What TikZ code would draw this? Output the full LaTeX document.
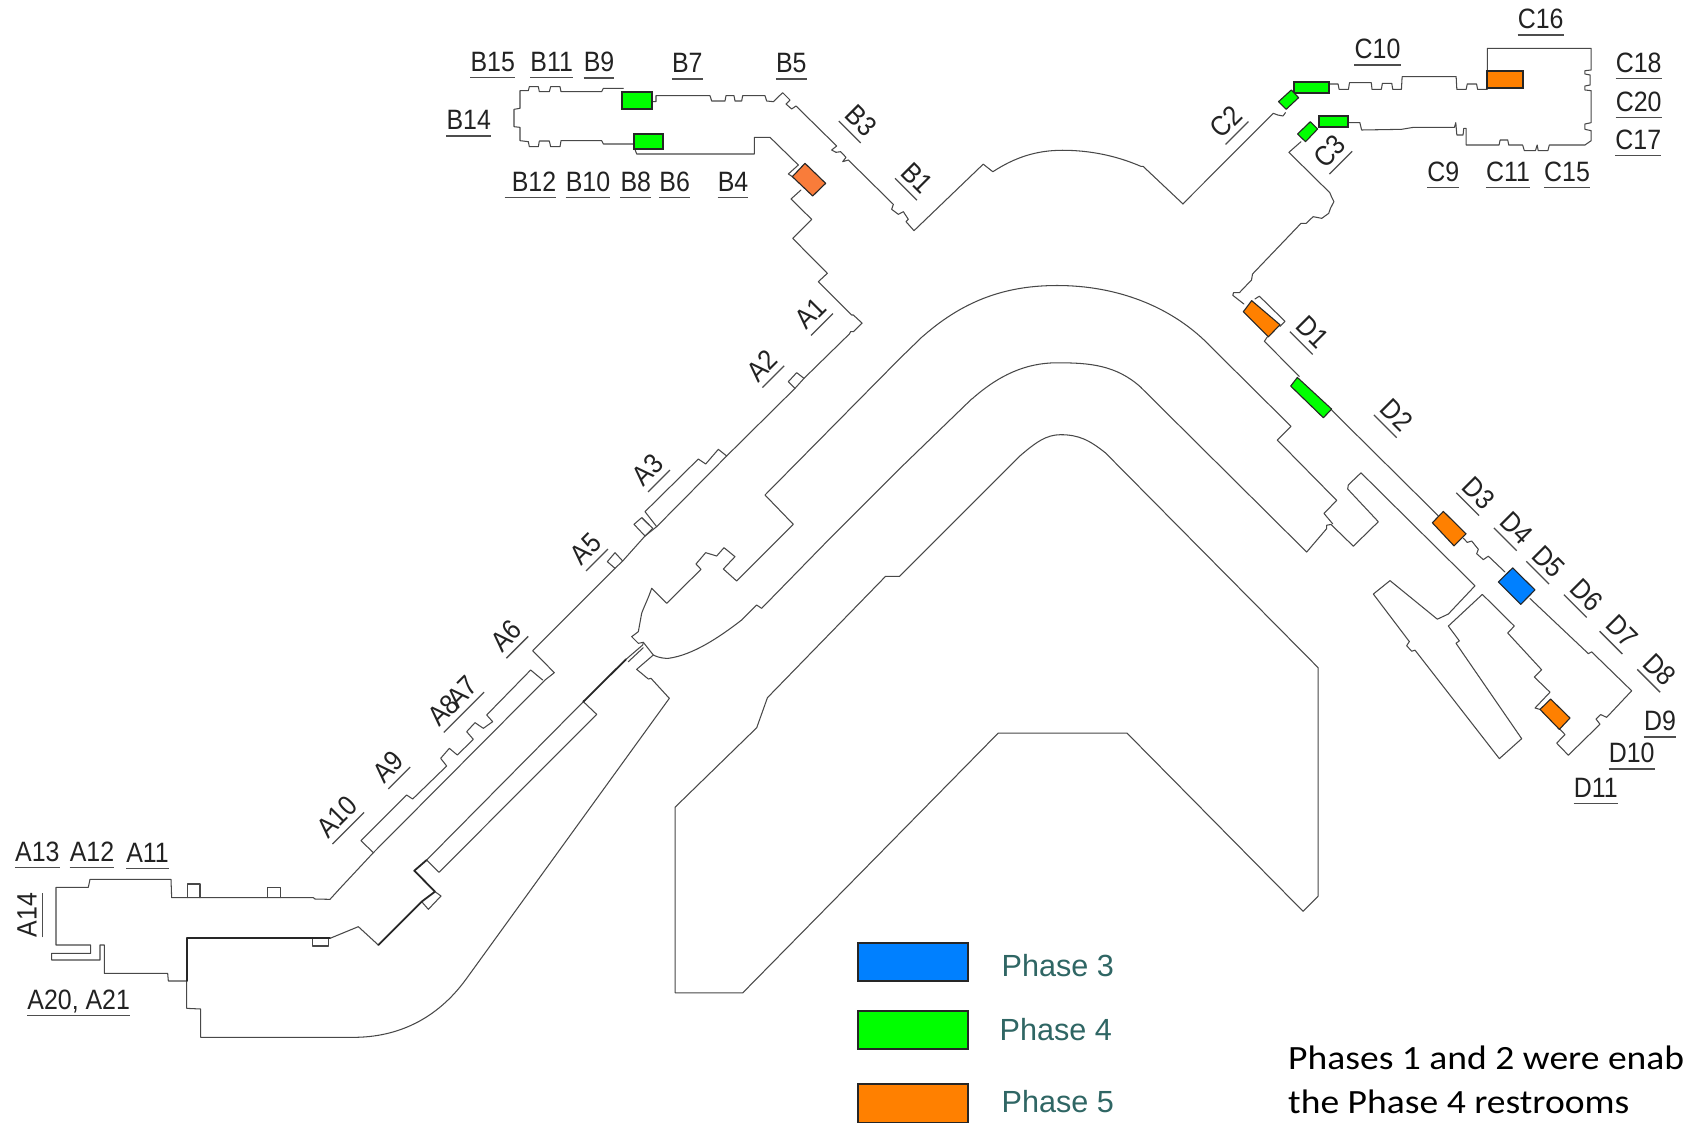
\documentclass[tikz,border=0pt]{standalone}
\usepackage{fontspec}
\setmainfont{Liberation Sans}
\newfontfamily\noteface{Carlito}
\definecolor{wallc}{HTML}{484848}
\definecolor{gr}{HTML}{00FF00}
\definecolor{grd}{HTML}{0A5A0A}
\definecolor{org}{HTML}{FF8000}
\definecolor{orgb}{HTML}{F97C3A}
\definecolor{blu}{HTML}{0080FF}
\definecolor{tealt}{HTML}{2F6664}
\definecolor{labc}{HTML}{222222}
\newcommand\lb[1]{\scalebox{.89}[1]{#1}}
\newcommand\nt[1]{\scalebox{1.105}[1]{#1}}
\tikzset{
 wall/.style={draw=wallc,line width=1.05pt,line join=round,line cap=round},
 heavy/.style={draw=black!85,line width=1.8pt,line join=round,line cap=round},
 zone/.style={draw=black!85,line width=1.1pt,line join=round},
 zoneh/.style={draw=black!85,line width=2pt,line join=miter},
 lab line/.style={draw=labc!80,line width=1.3pt},
 lab/.style={font=\fontsize{28}{28}\selectfont,text=labc,inner xsep=0pt,inner ysep=6pt,anchor=south,text depth=0pt,
   append after command={(\tikzlastnode.south west) edge[lab line] (\tikzlastnode.south east)}},
 phase/.style={font=\fontsize{30.6}{30.6}\selectfont,text=tealt,anchor=base west,inner sep=0pt},
 note/.style={font=\noteface\fontsize{34}{34}\selectfont,text=black,anchor=base west,inner sep=0pt},
 za/.style={shift={(420,20)},xscale=1/3,yscale=1/3},
 zb/.style={shift={(1140,0)},xscale=1/2.888,yscale=1/3},
 zc/.style={shift={(1180,280)},xscale=1/3,yscale=1/2.904},
 zd/.style={shift={(0,780)},xscale=1/3,yscale=1/3},
 ze/.style={shift={(320,580)},xscale=1/3,yscale=1/3},
 zf/.style={shift={(560,280)},xscale=1/3,yscale=1/3},
 zs/.style={xscale=1.07334,yscale=1.07334},
}
\begin{document}
\begin{tikzpicture}[x=1pt,y=-1pt]
\useasboundingbox[fill=white] (0,0) rectangle (1683,1122);

% ---- shrunk-scale outlines: arcs and the large polygon
\begin{scope}[zs]
\coordinate (arctopl) at (916,153);
\coordinate (arctopr) at (1102,190);
\coordinate (arconel) at (860,313);
\coordinate (arconer) at (1125,320);
\coordinate (arctwol) at (905,372);
\coordinate (arctwor) at (1063,361);
\path[wall] (629,752) -- (629,925) -- (692,925) -- (930,683) -- (1050,683) -- (1214,849) -- (1228,835) -- (1228,622) -- (1030,422)
  .. controls (1015,410) and (1005,405) .. (988,405)
  .. controls (975,405) and (965,412) .. (950,425)
  -- (838,537) -- (825,537) -- (715,650) -- (705,678) -- cycle;
\path[wall] (arctopl) -- (925,160) .. controls (945,147) and (965,140) .. (990,140)
  .. controls (1015,140) and (1040,145) .. (1063,155) -- (1065,155) -- (arctopr);
\path[wall] (arconel) .. controls (900,278) and (940,266) .. (985,266)
  .. controls (1040,266) and (1090,285) .. (arconer);
\path[wall] (arctwol) .. controls (930,350) and (955,338) .. (985,338)
  .. controls (1015,338) and (1040,340) .. (arctwor);
\end{scope}

% ---- B concourse
\begin{scope}[za]
\path[wall] (610,205) -- (550,205) -- (545,215) -- (423,215) -- (420,200) -- (392,200) -- (388,215) -- (358,215) -- (355,200) -- (328,200) -- (325,212) -- (300,212) -- (300,265) -- (282,268) -- (282,320) -- (300,322) -- (300,362) -- (325,365) -- (328,380) -- (355,380) -- (358,363) -- (388,363) -- (392,380) -- (420,380) -- (423,362) -- (545,362) -- (550,372) -- (640,372);
\path[wall] (645,388) -- (650,402) -- (1003,402) -- (1003,352) -- (1050,352) -- (1135,435) -- (1105,462) -- (1117,470);
\path[wall] (1143,510) -- (1113,537) -- (1175,598) -- (1118,655) -- (1222,760) -- (1195,785) -- (1295,885) -- (1300,885) -- (1327,910);
\path[wall] (695,245) -- (708,245) -- (708,227) -- (870,227) -- (875,243) -- (915,243) -- (918,227) -- (942,227) -- (945,243) -- (965,243) -- (968,227) -- (1035,227) -- (1040,243) -- (1060,245) -- (1088,218) -- (1110,240) -- (1098,252) -- (1115,267) -- (1128,258) -- (1250,378) -- (1235,390) -- (1248,397) -- (1262,395) -- (1278,412) -- (1268,425) -- (1285,420) -- (1420,553) -- (1415,568) -- (1435,583) -- (1450,575) -- (1465,598) -- (1458,605) -- (1482,632) -- (arctopl);
\path[zoneh,fill=gr] (607,217) rectangle (695,266);
\path[zoneh,fill=gr] (642,343) rectangle (728,388);
\path[zone,fill=orgb] (1155,430) -- (1217,490) -- (1178,528) -- (1117,470) -- cycle;
\end{scope}

% ---- C concourse
\begin{scope}[zb]
\path[wall] (arctopr) -- (385,340) -- (398,345) -- (413,348) -- (420,338);
\path[wall] (545,252) -- (572,252) -- (575,268) -- (602,268) -- (605,248) -- (668,248) -- (670,268) -- (697,268) -- (700,250) -- (727,250) -- (730,268) -- (755,268) -- (757,230) -- (913,230) -- (915,268) -- (942,268) -- (945,252) -- (972,252) -- (975,268) -- (1003,268) -- (1003,145) -- (1303,145) -- (1303,210) -- (1285,212) -- (1285,222) -- (1300,225) -- (1300,255) -- (1285,258) -- (1285,270) -- (1303,272) -- (1303,368) -- (1285,372) -- (1285,388) -- (1303,392) -- (1303,422) -- (1285,435) -- (1182,435) -- (1178,452) -- (1150,452) -- (1147,435) -- (1142,452) -- (1110,452) -- (1105,435) -- (1065,435) -- (1062,420) -- (1040,420) -- (1037,435) -- (942,435) -- (942,385) -- (935,385) -- (933,405) -- (915,405) -- (912,368) -- (908,382) -- (790,382) -- (755,388) -- (640,390) -- (635,368) -- (603,368);
\path[wall] (465,425) -- (430,457) -- (548,578) -- (553,590) -- (560,605) -- (550,625) -- (545,640) -- (525,655) -- (500,650) -- (480,670) -- (465,670) -- (325,822) -- (322,840) -- (287,878) -- (270,878) -- (268,886) -- (300,912);
\path[zoneh,fill=gr] (445,245) rectangle (545,278);
\path[zone,fill=gr] (437,270) -- (458,293) -- (422,328) -- (400,305) -- cycle;
\path[zoneh,fill=gr] (517,347) rectangle (602,380);
\path[zone,fill=gr] (492,365) -- (513,387) -- (478,425) -- (455,402) -- cycle;
\path[zoneh,fill=org] (1003,212) rectangle (1105,264);
\end{scope}

% ---- D concourse
\begin{scope}[zc]
\path[wall] (225,55) -- (238,47) -- (315,120) -- (300,135);
\path[wall] (262,165) -- (253,178) -- (358,280);
\path[wall] (455,378) -- (775,685);
\path[wall] (850,750) -- (862,762) -- (875,758) -- (895,782) -- (890,795) -- (910,812) -- (925,802) -- (975,848);
\path[wall] (1050,925) -- (1225,1085) -- (1235,1080) -- (1355,1193) -- (1280,1270) -- (1262,1262) -- (1248,1275) -- (1260,1290) -- (1165,1380) -- (1130,1345) -- (1155,1320) -- (1140,1305);
\path[wall] (1080,1247) -- (1065,1243) -- (1110,1197) -- (1063,1153) -- (1085,1132) -- (983,1025) -- (1003,1005) -- (907,913) -- (805,1005) -- (838,1048) -- (828,1055) -- (1025,1332) -- (958,1390) -- (705,1075) -- (695,1078) -- (680,1062) -- (688,1050) -- (580,912) -- (630,873) -- (772,985) -- (805,970) -- (885,888) -- (543,560) -- (505,595) -- (503,607) -- (595,702) -- (520,773) -- (453,710) -- (440,712) -- (440,722) -- (380,790) -- (arctwor);
\path[wall] (458,708) -- (432,678) -- (470,640) -- (292,465) -- (333,425) -- (arconer);
\path[zone,fill=org] (215,60) -- (300,130) -- (265,165) -- (190,92) -- cycle;
\path[zone,fill=gr] (352,283) -- (455,375) -- (430,400) -- (332,308) -- cycle;
\path[zone,fill=org] (790,672) -- (858,737) -- (822,772) -- (757,705) -- cycle;
\path[zone,fill=blu] (998,836) -- (1065,900) -- (1022,942) -- (955,877) -- cycle;
\path[zone,fill=org] (1112,1217) -- (1170,1272) -- (1138,1305) -- (1080,1247) -- cycle;
\end{scope}

% ---- A concourse, north part
\begin{scope}[zf]
\coordinate (wallA) at (165,865);
\coordinate (corrA) at (1020,235);
\coordinate (corrB) at (275,925);
\coordinate (thirdA) at (545,1020);
\path[wall] (905,130) -- (880,155) -- (872,155) -- (868,162) -- (732,295) -- (705,325) -- (500,528) -- (290,740) -- (255,768) -- (188,843) -- (165,865);
\path[wall] (732,295) -- (710,278) -- (685,305) -- (705,325);
\path[wall] (500,528) -- (475,508) -- (437,552) -- (415,537) -- (255,695) -- (290,740);
\path[wall] (245,713) -- (278,745);
\path[wall] (278,745) -- (255,768) -- (222,733) -- (245,713) -- (268,735);
\path[wall] (188,843) -- (165,818) -- (142,845) -- (165,865);
\path[wall] (arconel) -- (corrA) -- (615,645) -- (700,733) -- (530,903) -- (490,867) -- (525,830) -- (492,803) -- (470,828) -- (437,818) -- (408,852) -- (423,868) -- (320,970) -- (corrB);
\path[wall] (arctwol) -- (1020,565) -- (810,775) -- (605,985) -- (590,975) -- (thirdA);
\end{scope}

% ---- A concourse, south part
\begin{scope}[ze]
\coordinate (wallB) at (30,958);
\coordinate (cornerD) at (1048,355);
\coordinate (stubD) at (305,965);
\path[wall] (wallA) -- (638,212) -- (703,278) -- (675,300) -- (160,818) -- (60,925) -- (wallB);
\path[wall] (668,300) -- (632,270) -- (500,405) -- (518,425) -- (490,445) -- (465,428) -- (440,455) -- (460,478) -- (412,525) -- (388,505) -- (362,535) -- (380,558) -- (278,657) -- (260,645) -- (123,782) -- (160,818);
\path[wall] (320,840) -- (790,365);
\path[heavy] (283,872) -- (320,840);
\path[wall] (320,840) -- (357,877) -- (830,403) -- (790,365);
\path[heavy] (790,365) -- (918,238);
\path[wall] (918,238) -- (968,195) -- (970,187);
\path[wall] (925,245) -- (970,203);
\path[heavy] (283,872) -- (345,935) -- (stubD);
\path[wall] (345,935) -- (363,948) -- (325,988) -- (stubD);
\path[wall] (corrB) .. controls (985,55) and (970,85) .. (965,100) -- (955,155) -- (935,170) -- (955,190) -- (970,187) -- (1000,225)
  .. controls (1020,235) and (1035,235) .. (1045,235) .. controls (1120,225) and (1200,170) .. (thirdA);
\path[wall] (1000,225) -- (950,268) -- (985,297) -- (993,295) -- (cornerD);
\end{scope}

% ---- A gates, west end
\begin{scope}[zd]
\path[wall] (wallB) -- (945,357) -- (940,353) -- (515,353) -- (513,298) -- (270,298) -- (265,322) -- (168,322) -- (168,495) -- (272,495) -- (272,520) -- (155,520) -- (155,540) -- (300,540) -- (300,495) -- (313,495) -- (313,580) -- (503,580) -- (505,603) -- (560,603);
\path[wall] (562,353) -- (562,312) -- (600,312) -- (600,353);
\path[wall] (802,353) -- (802,323) -- (842,323) -- (842,353);
\path[wall] (938,475) -- (938,498) -- (985,498) -- (985,475);
\path[wall] (cornerD) -- (1400,595) .. controls (1310,720) and (1190,772) .. (1060,772) -- (602,772) -- (602,687) -- (560,685) -- (560,603);
\path[heavy] (560,603) -- (560,475) -- (990,475);
\path[wall] (990,475) -- (1075,440) -- (1135,495);
\path[heavy] (1135,495) -- (stubD);
\end{scope}

% ---- labels
\node[lab] (B15) at (492.7,77.3) {\lb{B15}};
\node[lab] (B11) at (551.7,77.3) {\lb{B11}};
\node[lab] (B9) at (599,78) {\lb{B9}};
\node[lab] (B7) at (687.3,79) {\lb{B7}};
\node[lab] (B5) at (791.3,79) {\lb{B5}};
\node[lab] (B14) at (468.7,136) {\lb{B14}};
\node[lab] (B12) at (530.5,197.7) {\hspace*{7pt}\lb{B12}};
\node[lab] (B10) at (588,197.7) {\lb{B10}};
\node[lab] (B8) at (635.8,197.7) {\lb{B8}};
\node[lab] (B6) at (674.7,197.7) {\lb{B6}};
\node[lab] (B4) at (733,197.7) {\lb{B4}};
\node[lab,rotate=-45] (B3) at (849.7,132) {\lb{B3}};
\node[lab,rotate=-45] (B1) at (906,189.3) {\lb{B1}};
\node[lab,rotate=45] (A1) at (822,324.5) {\lb{A1}};
\node[lab,rotate=45] (A2) at (773.3,376.7) {\lb{A2}};
\node[lab,rotate=45] (A3) at (659,481) {\lb{A3}};
\node[lab,rotate=45] (A5) at (597,560) {\lb{A5}};
\node[lab,rotate=45] (A6) at (517.3,647.3) {\lb{A6}};
\node[lab,rotate=45] (A8A7) at (464,712.3) {\lb{A8\kern-5pt A7}};
\node[lab,rotate=45] (A9) at (399.3,778) {\lb{A9}};
\node[lab,rotate=45] (A10) at (348.3,828.2) {\lb{A10}};
\node[lab] (A11) at (147.5,868.3) {\lb{A11}};
\node[lab] (A12) at (92,867.7) {\lb{A12}};
\node[lab] (A13) at (37.3,867.7) {\lb{A13}};
\node[lab,rotate=90] (A14) at (42.7,915) {\lb{A14}};
\node[lab] (A20) at (78.7,1015.3) {\lb{A20, A21}};
\node[lab,rotate=45] (C2) at (1237,133) {\lb{C2}};
\node[lab,rotate=45] (C3) at (1340.8,162.7) {\lb{C3}};
\node[lab] (C10) at (1377.5,65) {\lb{C10}};
\node[lab] (C16) at (1540.6,35) {\lb{C16}};
\node[lab] (C18) at (1638.6,78.7) {\lb{C18}};
\node[lab] (C20) at (1638.6,117.3) {\lb{C20}};
\node[lab] (C17) at (1638.3,155.7) {\lb{C17}};
\node[lab] (C9) at (1443.3,187.7) {\lb{C9}};
\node[lab] (C11) at (1508,187.7) {\lb{C11}};
\node[lab] (C15) at (1567,187.7) {\lb{C15}};
\node[lab,rotate=-45] (D1) at (1301.3,343) {\lb{D1}};
\node[lab,rotate=-45] (D2) at (1385.3,426.3) {\lb{D2}};
\node[lab,rotate=-45] (D3) at (1467.7,504.2) {\lb{D3}};
\node[lab,rotate=-45] (D4) at (1505.3,539.3) {\lb{D4}};
\node[lab,rotate=-45] (D5) at (1537.7,572.7) {\lb{D5}};
\node[lab,rotate=-45] (D6) at (1575.3,606) {\lb{D6}};
\node[lab,rotate=-45] (D7) at (1611,642.6) {\lb{D7}};
\node[lab,rotate=-45] (D8) at (1648.7,680.8) {\lb{D8}};
\node[lab] (D9) at (1660,737) {\lb{D9}};
\node[lab] (D10) at (1631.7,769) {\lb{D10}};
\node[lab] (D11) at (1595.7,803.4) {\lb{D11}};

% ---- legend
\path[zoneh,fill=blu] (858,943) rectangle (968,981);
\path[zoneh,fill=gr] (858,1010.5) rectangle (968,1048.5);
\path[zoneh,fill=org] (858,1083.5) rectangle (968,1123);
\node[phase] (P3) at (1001.5,976.7) {Phase 3};
\node[phase] (P4) at (999.5,1040.7) {Phase 4};
\node[phase] (P5) at (1001.5,1112.7) {Phase 5};
\node[note] (N1) at (1288,1069) {\nt{Phases 1 and 2 were enab}};
\node[note] (N2) at (1288,1113.3) {\nt{the Phase 4 restrooms}};
\end{tikzpicture}
\end{document}
